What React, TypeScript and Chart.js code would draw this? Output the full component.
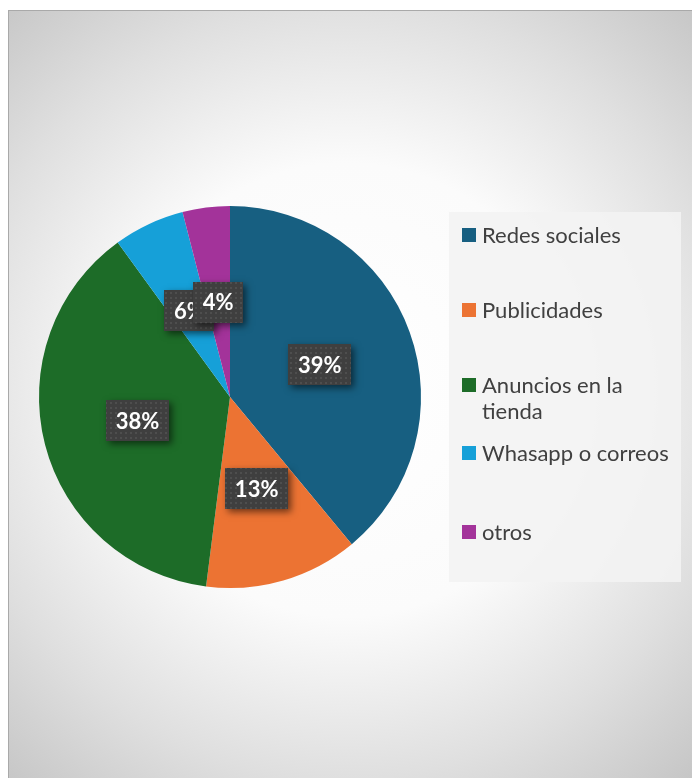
import React, { useEffect, useRef } from "react";
import { Chart, registerables } from "chart.js";

Chart.register(...registerables);

// Survey: how customers heard about the store
const categories: (string | string[])[] = [
  "Redes sociales",
  "Publicidades",
  ["Anuncios en la", "tienda"],
  "Whasapp o correos",
  "otros",
];
const shares = [39, 13, 38, 6, 4];
const sliceColors = ["#175f81", "#ec7333", "#1d6c28", "#16a0d8", "#a3339a"];

// legend row centres (canvas px) and panel box
const legendRows = [225, 300, 375, 443, 522];
const legendBox = { x: 441, y: 202, w: 232, h: 370 };
const FONT = "Lato, 'Open Sans', sans-serif";

const backgroundPlugin = {
  id: "panelBackground",
  beforeDraw(chart: any) {
    const { ctx, width, height } = chart;
    ctx.save();
    const g = ctx.createRadialGradient(338, 380, 0, 338, 380, 540);
    g.addColorStop(0, "#ffffff");
    g.addColorStop(0.42, "#fbfbfb");
    g.addColorStop(0.72, "#dfdfdf");
    g.addColorStop(1, "#c2c2c2");
    ctx.fillStyle = g;
    ctx.fillRect(0, 0, width, height);
    ctx.fillStyle = "#a9a9a9";
    ctx.fillRect(0, 0, width, 1);
    ctx.fillRect(0, 0, 1, height);
    ctx.restore();
  },
};

function makeDotPattern(ctx: CanvasRenderingContext2D) {
  const c = document.createElement("canvas");
  c.width = 5;
  c.height = 5;
  const p = c.getContext("2d")!;
  p.fillStyle = "#3f3f3f";
  p.fillRect(0, 0, 5, 5);
  p.fillStyle = "#4e4e4e";
  p.fillRect(2, 2, 2, 2);
  return ctx.createPattern(c, "repeat");
}

const sliceLabelPlugin = {
  id: "sliceLabels",
  afterDatasetsDraw(chart: any) {
    const ctx: CanvasRenderingContext2D = chart.ctx;
    const meta = chart.getDatasetMeta(0);
    const values = chart.data.datasets[0].data as number[];
    const pattern = makeDotPattern(ctx);
    ctx.save();
    ctx.font = `bold 22px ${FONT}`;
    meta.data.forEach((arc: any, i: number) => {
      const { x, y, startAngle, endAngle, outerRadius } = arc.getProps(
        ["x", "y", "startAngle", "endAngle", "outerRadius"],
        true
      );
      const mid = (startAngle + endAngle) / 2;
      const cx = x + Math.cos(mid) * outerRadius * 0.5;
      const cy = y + Math.sin(mid) * outerRadius * 0.5;
      const text = `${values[i]}%`;
      const w = Math.round(ctx.measureText(text).width + 19);
      const h = 41;
      const bx = Math.round(cx - w / 2);
      const by = Math.round(cy - h / 2);
      ctx.save();
      ctx.shadowColor = "rgba(0,0,0,0.55)";
      ctx.shadowBlur = 7;
      ctx.shadowOffsetX = 3;
      ctx.shadowOffsetY = 3;
      ctx.fillStyle = "#3f3f3f";
      ctx.fillRect(bx, by, w, h);
      ctx.restore();
      ctx.fillStyle = pattern || "#3f3f3f";
      ctx.fillRect(bx, by, w, h);
      ctx.fillStyle = "#ffffff";
      ctx.textAlign = "center";
      ctx.textBaseline = "middle";
      ctx.fillText(text, cx, cy + 1);
    });
    ctx.restore();
  },
};

const legendPlugin = {
  id: "sideLegend",
  afterDraw(chart: any) {
    const ctx: CanvasRenderingContext2D = chart.ctx;
    const labels = chart.data.labels as (string | string[])[];
    const colors = chart.data.datasets[0].backgroundColor as string[];
    ctx.save();
    ctx.fillStyle = "rgba(243,243,243,0.9)";
    ctx.fillRect(legendBox.x, legendBox.y, legendBox.w, legendBox.h);
    ctx.font = `22px ${FONT}`;
    ctx.textBaseline = "middle";
    ctx.textAlign = "left";
    labels.forEach((lab, i) => {
      const yc = legendRows[i];
      ctx.fillStyle = colors[i];
      ctx.fillRect(454, yc - 7, 14, 14);
      ctx.fillStyle = "#404040";
      const lines = Array.isArray(lab) ? lab : [lab];
      lines.forEach((ln, j) => ctx.fillText(ln, 474, yc + 1 + j * 26));
    });
    ctx.restore();
  },
};

export default function App() {
  const canvasRef = useRef<HTMLCanvasElement | null>(null);

  useEffect(() => {
    if (!canvasRef.current) return;
    const chart = new Chart(canvasRef.current, {
      type: "pie",
      data: {
        labels: categories as any,
        datasets: [
          {
            data: shares,
            backgroundColor: sliceColors,
            borderWidth: 0,
          },
        ],
      },
      options: {
        animation: false,
        responsive: true,
        maintainAspectRatio: false,
        layout: { padding: { left: 31, right: 271, top: 196, bottom: 190 } },
        plugins: {
          legend: { display: false },
          tooltip: { enabled: false },
          title: { display: false },
        },
      },
      plugins: [backgroundPlugin, sliceLabelPlugin, legendPlugin],
    });
    return () => chart.destroy();
  }, []);

  return (
    <div
      style={{
        position: "absolute",
        left: 8,
        top: 10,
        width: 684,
        height: 768,
      }}
    >
      <canvas ref={canvasRef} />
    </div>
  );
}
